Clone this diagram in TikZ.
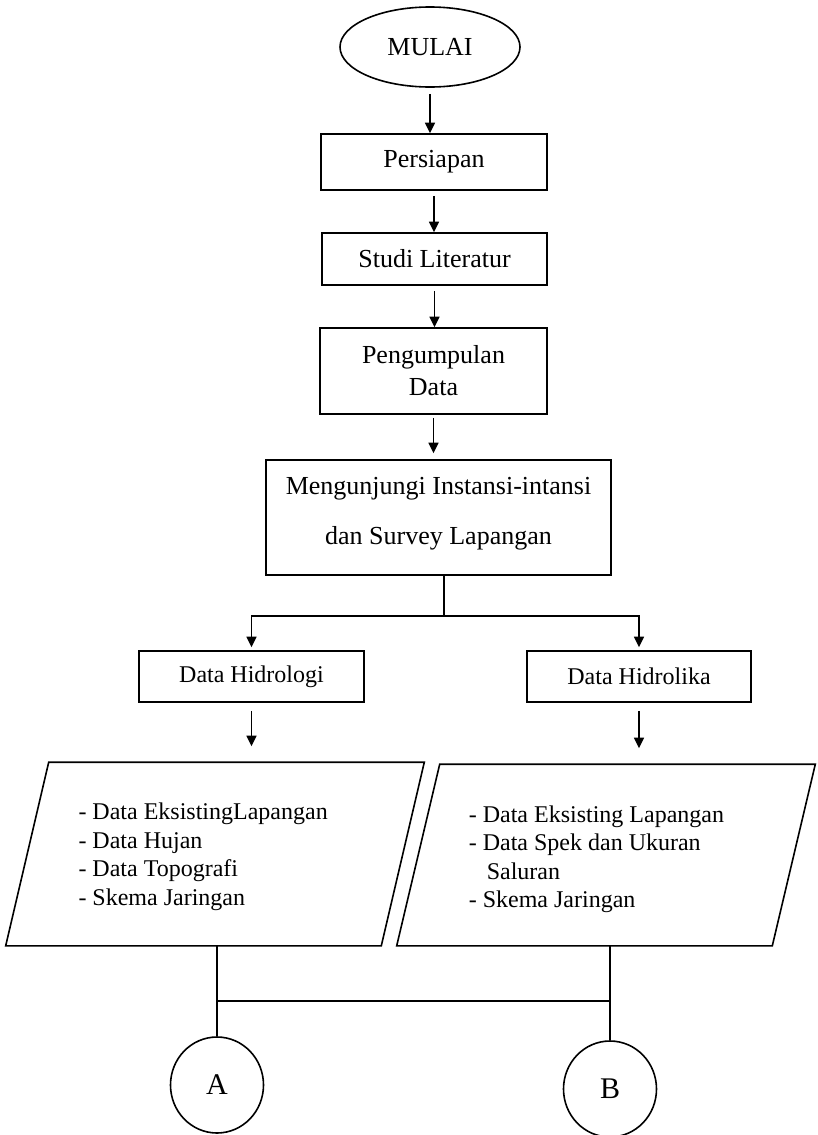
\documentclass[tikz,border=0pt]{standalone}
\usepackage{fontspec}
\setmainfont{Liberation Serif}
\usetikzlibrary{shapes.geometric, positioning, arrows.meta}

\begin{document}
\begin{tikzpicture}[x=0.5pt, y=-0.5pt, line width=0.8pt,
    box/.style={draw, rectangle, inner sep=0pt, align=center, font=\fontsize{13}{16}\selectfont},
    io/.style={rectangle, inner sep=0pt, minimum width=187pt},
    con/.style={draw, ellipse, inner sep=0pt, minimum width=46.5pt, minimum height=48pt,
        font=\fontsize{15}{16}\selectfont},
    arr/.style={-{Triangle[width=5pt, length=5.3pt]}}]
\useasboundingbox (0,0) rectangle (818,1135);

% alur utama
\node[draw, ellipse, minimum width=90pt, minimum height=40pt, inner sep=0pt,
    font=\fontsize{13}{16}\selectfont] (mulai) at (430,47) {MULAI};
\node[box, minimum width=113pt, minimum height=28pt] (persiapan) at (434,162) {Persiapan};
\node[box, minimum width=112.5pt, minimum height=26pt] (studi) at (434.5,259) {Studi Literatur};
\node[box, minimum width=113.5pt, minimum height=43pt] (kumpul) at (433.5,371) {Pengumpulan\\Data};
\node[box, minimum width=172.5pt, minimum height=57.5pt, text depth=6.5pt,
    font=\fontsize{13}{25}\selectfont] (kunjung) at (438.5,517.5)
    {Mengunjungi Instansi-intansi\\dan Survey Lapangan};

\draw[arr, shorten <=3pt] (mulai.south) -- (mulai.south |- persiapan.north);
\draw[arr, shorten <=2.5pt] (persiapan.south) -- (persiapan.south |- studi.north);
\draw[arr, shorten <=2.5pt] (studi.south) -- (studi.south |- kumpul.north);
\draw[arr, shorten <=1.5pt, shorten >=3pt] (kumpul.south) -- (kumpul.south |- kunjung.north);

% percabangan
\node[box, minimum width=112.5pt, minimum height=25.5pt, font=\fontsize{12}{14}\selectfont]
    (hidrologi) at (251.5,676.5) {Data Hidrologi};
\node[box, minimum width=112pt, minimum height=25.5pt, font=\fontsize{12}{14}\selectfont]
    (hidrolika) at (639,676.5) {Data Hidrolika};
\coordinate (split) at (444,616);
\draw (kunjung.south -| split) -- (split);
\draw[arr, shorten >=1.5pt] (split) -| (hidrologi.north);
\draw[arr, shorten >=1.5pt] (split) -| (hidrolika.north);

% data masukan
\node[io, minimum height=91pt] (dataL) at (215,854) {};
\node[io, minimum height=90pt] (dataR) at (606,855) {};
\foreach \d in {dataL, dataR}
    \draw ([xshift=10.75pt]\d.north west) -- ([xshift=10.75pt]\d.north east)
        -- ([xshift=-10.75pt]\d.south east) -- ([xshift=-10.75pt]\d.south west) -- cycle;
\node[anchor=west, inner sep=0pt, align=left, font=\fontsize{12}{14.25}\selectfont]
    (listL) at (77.7,857) {- Data EksistingLapangan\\- Data Hujan\\- Data Topografi\\- Skema Jaringan};
\node[anchor=west, inner sep=0pt, align=left, font=\fontsize{12}{14.25}\selectfont]
    (listR) at (468,859.5) {- Data Eksisting Lapangan\\- Data Spek dan Ukuran\\\hspace*{9pt}Saluran\\- Skema Jaringan};
\draw[arr, shorten <=4pt, shorten >=8pt] (hidrologi.south) -- (hidrologi.south |- dataL.north);
\draw[arr, shorten <=4pt, shorten >=8pt] (hidrolika.south) -- (hidrolika.south |- dataR.north);

% konektor
\node[con] (A) at (217,1085) {A};
\node[con] (B) at (610,1089) {B};
\coordinate (gabung) at (0,1001);
\draw (A.north |- dataL.south) -- (A.north);
\draw (B.north |- dataR.south) -- (B.north);
\draw (A.north |- gabung) -- (B.north |- gabung);
\end{tikzpicture}
\end{document}
